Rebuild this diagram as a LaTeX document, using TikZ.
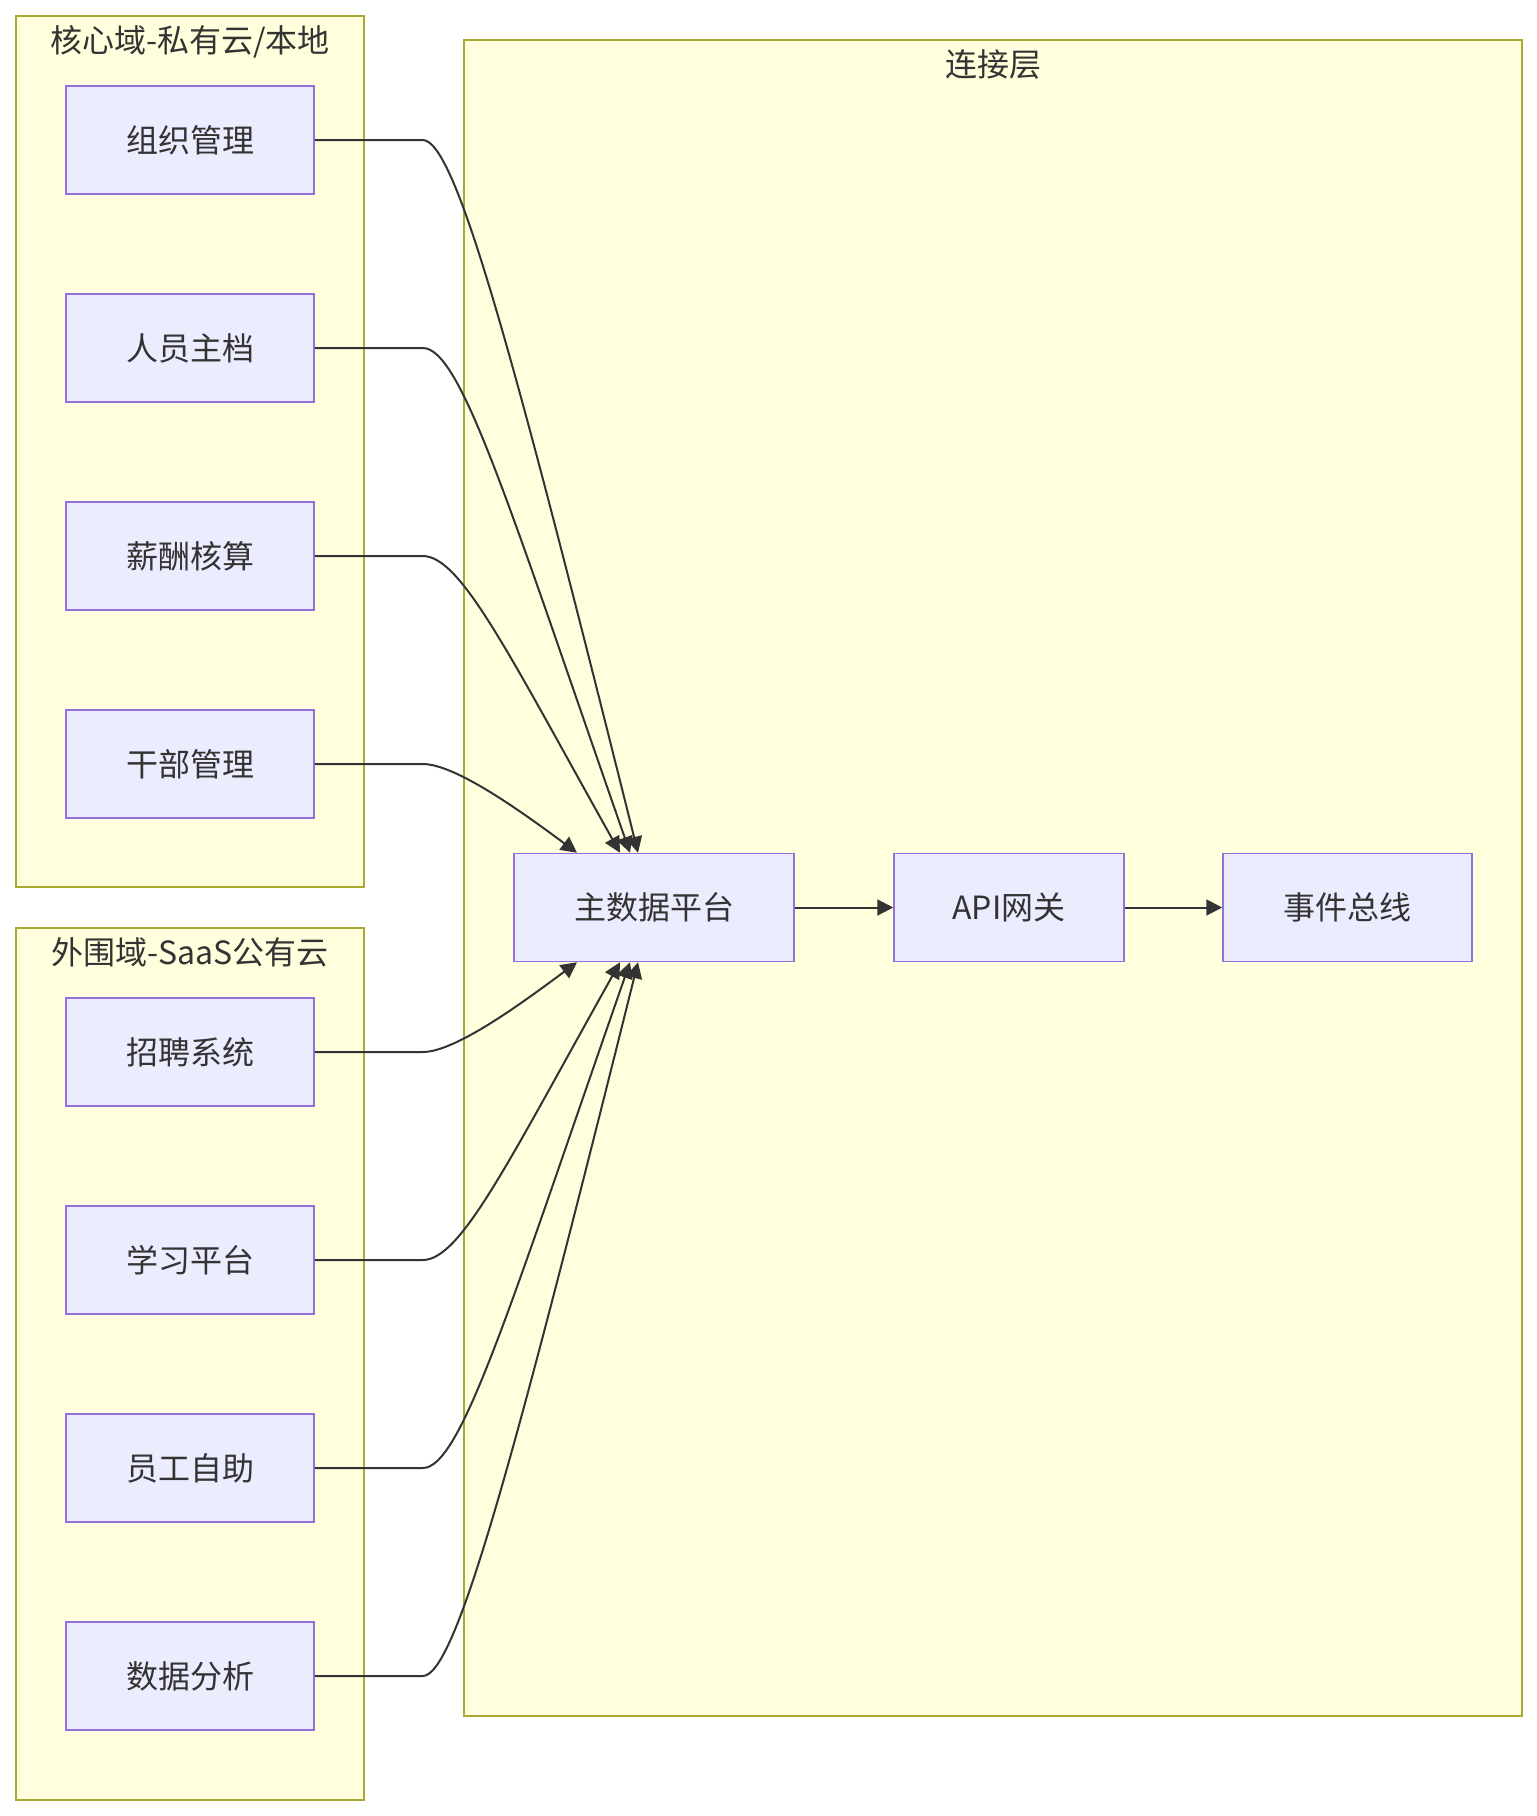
\documentclass[tikz,border=0pt]{standalone}
\usepackage{fontspec}
\setmainfont{Noto Sans CJK SC}
\usepackage{tikz}
\usetikzlibrary{arrows.meta,positioning}
\definecolor{clusterfill}{HTML}{FFFFDE}
\definecolor{clusterline}{HTML}{AAAA33}
\definecolor{boxfill}{HTML}{ECECFF}
\definecolor{boxline}{HTML}{9370DB}
\definecolor{linegray}{HTML}{333333}

\begin{document}
\begin{tikzpicture}[
  x=1pt, y=1pt, >={Triangle[length=16pt,width=16pt]}, node distance=98.5pt,
  cluster/.style={draw=clusterline, fill=clusterfill, line width=1.5pt, inner sep=0pt},
  ctitle/.style={font=\fontsize{32}{38}\selectfont, text=linegray, inner sep=0pt},
  box/.style={draw=boxline, fill=boxfill, line width=1.5pt, inner sep=0pt, minimum height=108pt,
    font=\fontsize{32}{38}\selectfont, text=linegray},
  src/.style={box, minimum width=248pt},
  flow/.style={->, draw=linegray, line width=2pt}
]
\useasboundingbox (0,0) rectangle (1537,-1816);
\fill[white] (0,0) rectangle (1537,-1816);

% subgraphs
\node[cluster, minimum width=348pt, minimum height=871pt] (core) at (190,-451.5) {};
\node[cluster, minimum width=348pt, minimum height=872pt] (saas) at (190,-1364) {};
\node[cluster, minimum width=1058pt, minimum height=1676pt] (link) at (993,-878) {};
\node[ctitle] (coret) at (190,-42) {核心域-私有云/本地};
\node[ctitle] (saast) at (190,-952) {外围域-SaaS公有云};
\node[ctitle] (linkt) at (993,-64) {连接层};

% core systems
\node[src] (org) at (190,-140) {组织管理};
\node[src, below=of org] (staff) {人员主档};
\node[src, below=of staff] (pay) {薪酬核算};
\node[src, below=of pay] (cadre) {干部管理};

% saas systems
\node[src] (recruit) at (190,-1052) {招聘系统};
\node[src, below=of recruit] (learn) {学习平台};
\node[src, below=of learn] (selfsvc) {员工自助};
\node[src, below=of selfsvc] (bi) {数据分析};

% connection layer
\node[box, minimum width=280pt] (mdm) at (654,-907.5) {主数据平台};
\node[box, minimum width=230pt, right=98.5pt of mdm] (gw) {API网关};
\node[box, minimum width=249pt, right=97.5pt of gw] (bus) {事件总线};

\draw[flow] (org.east) -- ++(108,0) .. controls +(33,0) and +(-125,500) .. ([xshift=-16pt]mdm.north);
\draw[flow] (staff.east) -- ++(108,0) .. controls +(38,0) and +(-122,350) .. ([xshift=-24pt]mdm.north);
\draw[flow] (pay.east) -- ++(108,0) .. controls +(38,0) and +(-112,200) .. ([xshift=-34pt]mdm.north);
\draw[flow] (cadre.east) -- ++(108,0) .. controls +(33,0) and +(-54,40) .. ([xshift=-77pt]mdm.north);
\draw[flow] (recruit.east) -- ++(108,0) .. controls +(33,0) and +(-54,-40) .. ([xshift=-77pt]mdm.south);
\draw[flow] (learn.east) -- ++(108,0) .. controls +(38,0) and +(-112,-200) .. ([xshift=-34pt]mdm.south);
\draw[flow] (selfsvc.east) -- ++(108,0) .. controls +(38,0) and +(-122,-350) .. ([xshift=-24pt]mdm.south);
\draw[flow] (bi.east) -- ++(108,0) .. controls +(33,0) and +(-125,-500) .. ([xshift=-16pt]mdm.south);
\draw[flow] (mdm) -- (gw);
\draw[flow] (gw) -- (bus);
\end{tikzpicture}
\end{document}
